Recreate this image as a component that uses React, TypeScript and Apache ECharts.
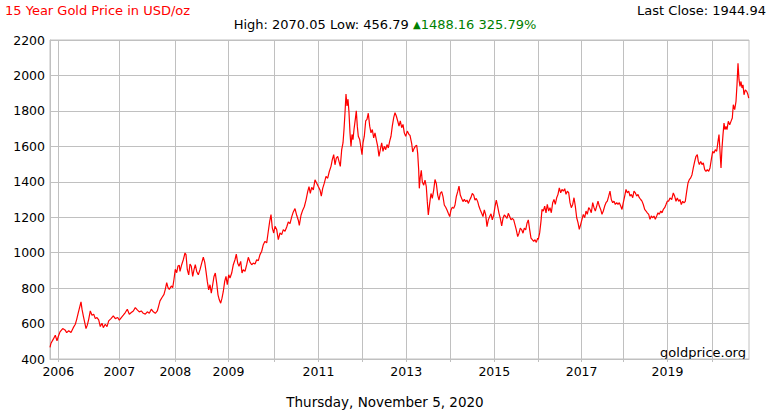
import React, { useEffect, useRef } from "react";
import * as echarts from "echarts";

// Chart sample position (0 = left edge of plot, 699 = right edge) and price in USD/oz
const years = ["2006", "2007", "2008", "2009", "2010", "2011", "2012", "2013", "2014", "2015", "2016", "2017", "2018", "2019", "2020"];
const yearPos = [8.3, 69.3, 125.3, 178.5, 224.3, 268.5, 312.3, 356.2, 400.3, 444.3, 487.8, 531.6, 573.3, 617.5, 662.3];
const labeledYears = ["2006", "2007", "2008", "2009", "2011", "2013", "2015", "2017", "2019"];

const seg2006to2008: [number, number][] = [
  [0, 465], [1.0, 489], [3.3, 512], [5.3, 534], [7.0, 502], [8.3, 527], [10.0, 553], [12.7, 572], [15.0, 564],
  [16.7, 549], [18.7, 559], [21.0, 549], [23.3, 577], [25.3, 596], [26.7, 624], [28.3, 662], [30.0, 700],
  [31.0, 722], [32.0, 681], [33.3, 643], [34.7, 606], [36.0, 572], [37.3, 591], [38.7, 624], [40.3, 671],
  [42.0, 647], [43.7, 653], [45.3, 628], [47.0, 634], [48.7, 621], [50.3, 583], [52.0, 602], [53.3, 577],
  [55.3, 596], [57.0, 583], [58.7, 615], [61.0, 628], [63.3, 643], [65.3, 628], [67.7, 634], [69.3, 619],
  [71.3, 634], [73.3, 647], [75.3, 662], [77.3, 681], [79.3, 653], [81.3, 662], [83.3, 671], [85.3, 690],
  [87.3, 677], [89.3, 666], [91.3, 671], [93.3, 658], [95.3, 653], [97.3, 666], [99.3, 658], [101.3, 681],
  [103.3, 666], [105.3, 658], [107.3, 671], [108.7, 700], [110.0, 728], [112.0, 747], [114.0, 765],
  [115.3, 793], [116.7, 831], [118.0, 803], [119.3, 793], [121.3, 812], [122.7, 803], [124.0, 850],
  [125.3, 906], [126.7, 887], [128.0, 925], [129.3, 929],
];

const seg2008to2010: [number, number][] = [
  [130.0, 894], [131.7, 932], [133.3, 960], [135.0, 998], [136.0, 989], [137.3, 904], [138.7, 875],
  [140.0, 936], [141.3, 923], [142.7, 866], [144.0, 904], [145.3, 932], [146.7, 894], [148.3, 875],
  [150.0, 904], [151.7, 941], [153.3, 974], [154.7, 947], [156.0, 894], [157.3, 838], [158.7, 790],
  [160.0, 819], [161.3, 772], [162.7, 819], [164.0, 866], [165.3, 885], [166.7, 828], [168.0, 762],
  [169.3, 734], [170.7, 715], [172.0, 743], [173.3, 781], [174.7, 838], [176.0, 866], [177.3, 819],
  [178.7, 875], [180.0, 857], [181.7, 885], [183.3, 932], [185.0, 960], [186.3, 992], [187.7, 941],
  [189.0, 923], [190.7, 951], [192.0, 885], [193.3, 904], [195.0, 894], [196.7, 932], [198.3, 974],
  [200.0, 947], [201.7, 932], [203.3, 941], [205.0, 936], [206.7, 960], [208.3, 955], [210.0, 989],
  [211.7, 1008], [213.3, 1045], [215.0, 1064], [216.7, 1055], [218.3, 1121], [219.7, 1177], [221.0, 1215],
  [222.3, 1140], [223.7, 1111], [225.0, 1149], [226.7, 1130], [228.3, 1074], [230.0, 1111], [231.7, 1102],
  [233.3, 1130], [235.0, 1121],
];

const seg2010to2013: [number, number][] = [
  [236.7, 1145], [238.3, 1173], [240.0, 1164], [241.7, 1202], [243.3, 1230], [245.0, 1249], [246.7, 1211],
  [248.3, 1183], [249.3, 1154], [251.0, 1211], [252.7, 1240], [254.3, 1259], [256.0, 1297], [257.7, 1344],
  [259.0, 1373], [260.3, 1335], [261.7, 1369], [263.3, 1354], [265.0, 1411], [266.7, 1392], [268.3, 1373],
  [270.0, 1354], [271.3, 1319], [272.7, 1363], [274.3, 1392], [276.0, 1430], [277.7, 1420], [279.3, 1458],
  [281.0, 1487], [282.3, 1525], [283.7, 1553], [285.0, 1496], [286.3, 1534], [287.7, 1543], [289.0, 1515],
  [290.3, 1487], [291.7, 1581], [293.0, 1619], [294.0, 1695], [295.0, 1790], [296.0, 1895], [297.0, 1828],
  [298.0, 1866], [299.0, 1790], [300.0, 1676], [301.0, 1600], [302.0, 1667], [303.0, 1638], [304.0, 1695],
  [305.3, 1752], [306.3, 1800], [307.3, 1714], [308.3, 1657], [309.7, 1638], [311.0, 1591], [312.0, 1553],
  [313.0, 1619], [314.3, 1657], [315.7, 1743], [317.0, 1752], [318.3, 1787], [319.7, 1714], [321.0, 1676],
  [322.3, 1695], [323.7, 1648], [325.0, 1676], [326.3, 1638], [327.7, 1600], [329.0, 1543], [330.3, 1581],
  [331.7, 1619], [333.0, 1572], [334.3, 1600], [335.7, 1581], [337.0, 1610], [338.3, 1591], [339.7, 1629],
  [341.0, 1657], [342.3, 1714], [343.7, 1762], [345.0, 1790], [346.3, 1771], [347.7, 1743], [349.0, 1714],
  [350.3, 1743], [351.7, 1705], [353.0, 1724], [354.3, 1676], [355.7, 1657], [357.3, 1686], [359.0, 1667],
];

const seg2013to2016: [number, number][] = [
  [360.0, 1662], [361.7, 1615], [362.7, 1568], [364.0, 1587], [365.3, 1600], [366.7, 1606], [367.7, 1559],
  [368.7, 1465], [369.3, 1363], [370.3, 1428], [371.3, 1465], [372.3, 1400], [373.7, 1381], [375.0, 1409],
  [376.3, 1372], [377.3, 1288], [378.3, 1213], [379.7, 1278], [381.0, 1334], [382.3, 1306], [383.7, 1353],
  [385.0, 1413], [386.3, 1391], [387.7, 1325], [389.0, 1297], [390.3, 1334], [391.7, 1344], [393.0, 1316],
  [394.3, 1269], [395.7, 1256], [397.0, 1241], [398.3, 1222], [399.7, 1204], [401.0, 1241], [402.3, 1256],
  [403.7, 1250], [405.0, 1269], [406.3, 1316], [407.7, 1344], [409.0, 1376], [410.3, 1325], [411.7, 1306],
  [413.0, 1288], [414.3, 1301], [415.7, 1288], [417.0, 1297], [418.3, 1278], [419.7, 1297], [421.0, 1312],
  [422.3, 1334], [423.7, 1325], [425.0, 1297], [426.3, 1306], [427.7, 1288], [429.0, 1260], [430.3, 1241],
  [431.7, 1222], [433.0, 1204], [434.3, 1241], [435.7, 1213], [437.0, 1147], [438.3, 1185], [439.7, 1204],
  [441.0, 1219], [442.3, 1185], [443.7, 1213], [445.0, 1260], [446.3, 1297], [447.7, 1260], [449.0, 1222],
  [450.3, 1194], [451.7, 1151], [453.0, 1194], [454.3, 1213], [455.7, 1204], [457.0, 1194], [458.3, 1222],
  [459.7, 1204], [461.0, 1185], [462.3, 1194], [463.7, 1185], [465.0, 1157], [466.3, 1129], [467.7, 1091],
  [469.0, 1110], [470.3, 1138], [471.7, 1129], [473.0, 1110], [474.3, 1138], [475.7, 1129], [477.0, 1166],
  [478.3, 1185], [479.7, 1129], [481.0, 1082], [482.3, 1073], [483.7, 1063], [485.0, 1073], [486.3, 1058],
  [487.7, 1082],
];

const seg2016to2019: [number, number][] = [
  [488.3, 1075], [489.7, 1113], [491.0, 1178], [492.0, 1244], [493.3, 1235], [494.7, 1263], [496.0, 1225],
  [497.3, 1272], [498.7, 1235], [500.0, 1254], [501.3, 1225], [502.7, 1282], [504.0, 1300], [505.3, 1272],
  [506.7, 1310], [508.0, 1329], [509.3, 1366], [510.7, 1338], [512.0, 1357], [513.3, 1347], [514.7, 1361],
  [516.0, 1329], [517.3, 1347], [518.7, 1338], [520.0, 1282], [521.3, 1254], [522.7, 1272], [524.0, 1310],
  [525.3, 1263], [526.7, 1197], [528.0, 1169], [529.3, 1131], [530.7, 1160], [532.0, 1188], [533.3, 1216],
  [534.7, 1197], [536.0, 1235], [537.3, 1216], [538.7, 1254], [540.0, 1244], [541.3, 1225], [542.7, 1282],
  [544.0, 1254], [545.3, 1235], [546.7, 1263], [548.0, 1291], [549.3, 1263], [550.7, 1244], [552.0, 1216],
  [553.3, 1235], [554.7, 1263], [556.0, 1282], [557.3, 1291], [558.7, 1319], [560.0, 1347], [561.3, 1300],
  [562.7, 1282], [564.0, 1291], [565.3, 1272], [566.7, 1282], [568.0, 1272], [569.3, 1282], [570.7, 1263],
  [572.0, 1244], [573.3, 1282], [574.7, 1319], [576.0, 1357], [577.3, 1338], [578.7, 1347], [580.0, 1319],
  [581.3, 1329], [582.7, 1310], [584.0, 1347], [585.3, 1338], [586.7, 1319], [588.0, 1329], [589.3, 1310],
  [590.7, 1300], [592.0, 1291], [593.3, 1272], [594.7, 1244], [596.0, 1235], [597.3, 1225], [598.7, 1216],
  [600.0, 1188], [601.3, 1207], [602.7, 1197], [604.0, 1207], [605.3, 1188], [606.7, 1207], [608.0, 1225],
  [609.3, 1216], [610.7, 1235], [612.0, 1225], [613.3, 1244], [614.7, 1254], [616.0, 1272], [617.3, 1291],
  [618.7, 1291],
];

const seg2019to2020: [number, number][] = [
  [620.0, 1309], [621.7, 1300], [623.3, 1337], [624.7, 1318], [626.0, 1290], [627.3, 1309], [628.7, 1290],
  [630.0, 1300], [631.3, 1271], [632.7, 1290], [634.0, 1281], [635.3, 1290], [636.7, 1346], [638.0, 1393],
  [639.3, 1412], [640.7, 1422], [642.0, 1440], [643.3, 1478], [644.7, 1515], [646.0, 1544], [647.3, 1553],
  [648.3, 1515], [649.3, 1497], [650.7, 1515], [652.0, 1497], [653.3, 1506], [654.7, 1469], [656.0, 1459],
  [657.3, 1469], [658.7, 1459], [660.0, 1478], [661.3, 1525], [662.7, 1572], [664.0, 1562], [665.3, 1581],
  [666.7, 1572], [668.0, 1628], [669.0, 1666], [670.0, 1572], [671.0, 1478], [672.0, 1591], [673.0, 1666],
  [674.0, 1731], [675.0, 1694], [676.0, 1713], [677.0, 1694], [678.3, 1741], [679.7, 1722], [681.0, 1741],
  [682.3, 1760], [683.3, 1835], [684.7, 1807], [686.0, 1854], [687.0, 1947], [688.0, 2069], [689.0, 1976],
  [690.0, 1938], [691.0, 1966], [692.0, 1929], [693.0, 1947], [694.0, 1891], [695.3, 1919], [696.7, 1910],
  [698.0, 1891], [698.7, 1872],
];

const titleText = "15 Year Gold Price in USD/oz";
const statsText = "High: 2070.05 Low: 456.79 ";
const changeText = "1488.16 325.79%";
const lastCloseText = "Last Close: 1944.94";
const dateText = "Thursday, November 5, 2020";
const sourceText = "goldprice.org";

const FONT = "DejaVu Sans, Verdana, sans-serif";
const GRID = "#c0c0c0";

export default function App() {
  const ref = useRef<HTMLDivElement>(null);
  useEffect(() => {
    if (!ref.current) return;
    const chart = echarts.init(ref.current, undefined, { renderer: "svg" });
    const data = [...seg2006to2008, ...seg2008to2010, ...seg2010to2013, ...seg2013to2016, ...seg2016to2019, ...seg2019to2020];
    const labelPos = labeledYears.map((y) => yearPos[years.indexOf(y)]);
    const yearAt = (v: number) => {
      let best = 0;
      yearPos.forEach((p, i) => {
        if (Math.abs(p - v) < Math.abs(yearPos[best] - v)) best = i;
      });
      return years[best];
    };
    chart.setOption({
      animation: false,
      backgroundColor: "#ffffff",
      grid: { left: 50, right: 21, top: 40, bottom: 51, show: true, borderColor: GRID, borderWidth: 1 },
      xAxis: {
        type: "value",
        min: 0,
        max: 699,
        axisLine: { show: true, lineStyle: { color: GRID } },
        axisTick: { show: true, length: 3, lineStyle: { color: GRID }, customValues: yearPos },
        axisLabel: {
          customValues: labelPos,
          formatter: (v: number) => yearAt(v),
          color: "#000",
          fontFamily: FONT,
          fontSize: 12.5,
          margin: 6,
        },
        splitLine: { show: true, lineStyle: { color: GRID, width: 1 } },
      },
      yAxis: {
        type: "value",
        min: 400,
        max: 2200,
        interval: 200,
        axisLine: { show: true, lineStyle: { color: GRID } },
        axisTick: { show: false },
        axisLabel: { color: "#000", fontFamily: FONT, fontSize: 12.5, margin: 5, formatter: (v: number) => String(v) },
        splitLine: { show: true, lineStyle: { color: GRID, width: 1 } },
      },
      series: [
        {
          type: "line",
          data,
          symbol: "none",
          showSymbol: false,
          lineStyle: { color: "#ff0000", width: 1.2 },
          itemStyle: { color: "#ff0000" },
        },
      ],
      graphic: [
        {
          type: "text",
          x: 5,
          y: 10,
          style: { text: titleText, fill: "#ff0000", font: `13px ${FONT}`, textVerticalAlign: "middle" },
        },
        {
          type: "text",
          x: 766,
          y: 10,
          style: { text: lastCloseText, fill: "#000", font: `13px ${FONT}`, textAlign: "right", textVerticalAlign: "middle" },
        },
        {
          type: "text",
          x: 385,
          y: 24.5,
          style: {
            text: `{a|${statsText}}{t|▲}{g|${changeText}}`,
            textAlign: "center",
            textVerticalAlign: "middle",
            rich: {
              a: { fill: "#000", fontFamily: FONT, fontSize: 13 },
              t: { fill: "#008000", fontFamily: FONT, fontSize: 10 },
              g: { fill: "#008000", fontFamily: FONT, fontSize: 13 },
            },
          },
        },
        {
          type: "text",
          x: 746,
          y: 352,
          style: { text: sourceText, fill: "#000", font: `13px ${FONT}`, textAlign: "right", textVerticalAlign: "middle" },
        },
        {
          type: "text",
          x: 385,
          y: 402,
          style: { text: dateText, fill: "#000", font: `13.5px ${FONT}`, textAlign: "center", textVerticalAlign: "middle" },
        },
      ],
    });
    return () => chart.dispose();
  }, []);
  return <div ref={ref} style={{ position: "fixed", left: 0, top: 0, width: 770, height: 410, background: "#fff" }} />;
}
